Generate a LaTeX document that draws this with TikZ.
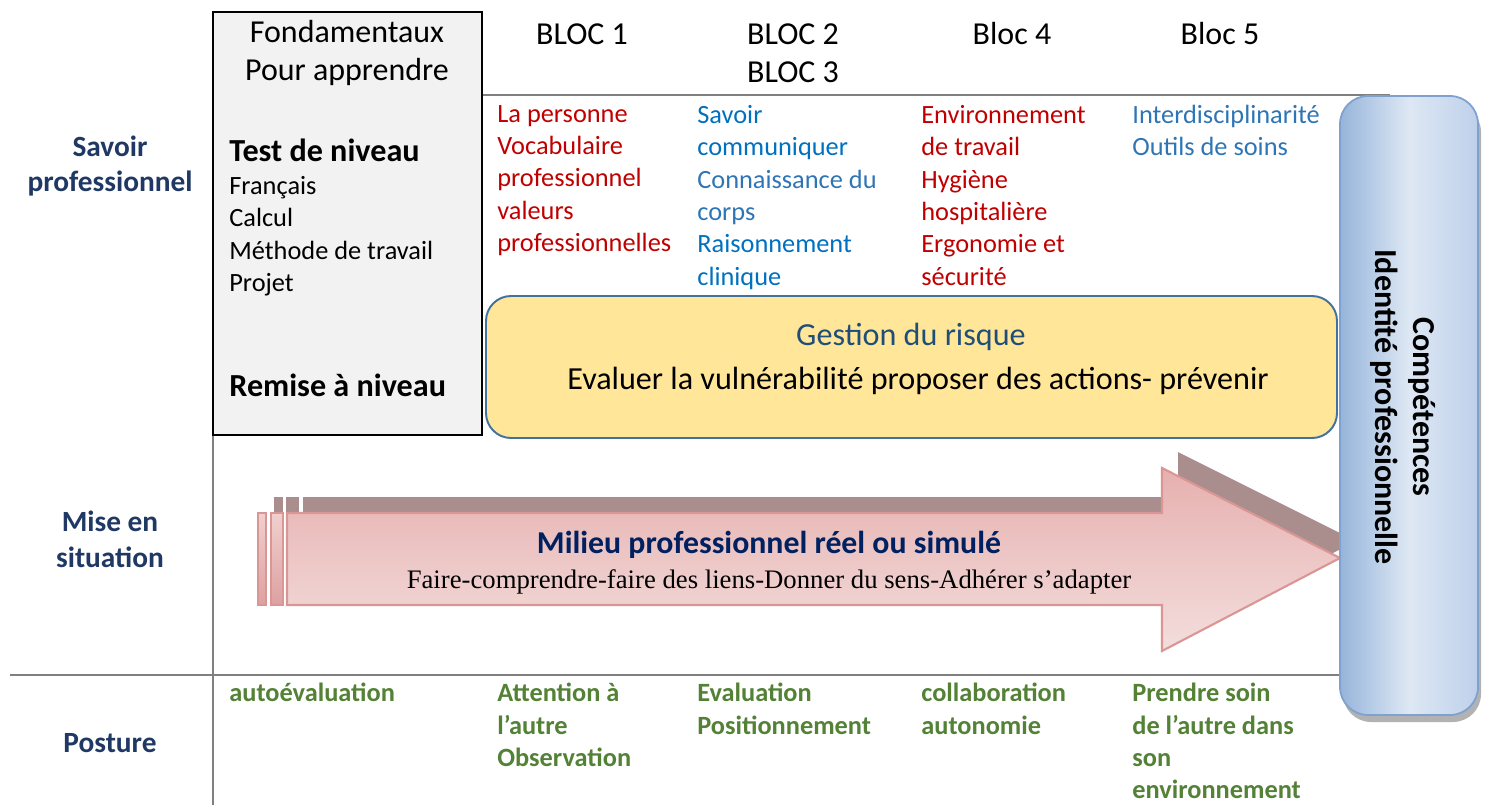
\documentclass[tikz,border=0pt]{standalone}
\usepackage{fontspec}
\usepackage{xcolor}
\setmainfont{Carlito}
\newfontfamily\timesfont{Liberation Serif}
\definecolor{navy}{HTML}{1F3864}
\definecolor{darkred}{HTML}{C00000}
\definecolor{brightblue}{HTML}{0070C0}
\definecolor{softblue}{HTML}{2E75B6}
\definecolor{leafgreen}{HTML}{538135}
\definecolor{steelblue}{HTML}{41719C}
\definecolor{riskblue}{HTML}{1F4E79}
\definecolor{titleblue}{HTML}{002060}
\definecolor{rulegray}{HTML}{808080}
\definecolor{riskfill}{HTML}{FFE699}
\definecolor{compline}{HTML}{7FA1CF}
\definecolor{compleft}{HTML}{96B4DA}
\definecolor{compmid}{HTML}{DEE8F4}
\definecolor{compright}{HTML}{BED0EA}
\definecolor{arrowline}{HTML}{D99694}
\definecolor{arrowtop}{HTML}{E6B0AF}
\definecolor{arrowbottom}{HTML}{F3DEDD}
\definecolor{stripetop}{HTML}{F0D0CF}
\definecolor{stripebottom}{HTML}{DEA0A0}
\definecolor{arrowshadow}{HTML}{AA8E8E}

\begin{document}
\begin{tikzpicture}[x=0.02cm,y=-0.02cm]
  \tikzstyle{SideStyle}=[font=\fontsize{16.7}{20.4}\selectfont\bfseries,text=navy,align=center,inner sep=0]
  \tikzstyle{HeadStyle}=[font=\fontsize{18.2}{21.5}\selectfont,align=center,inner sep=0]
  \tikzstyle{BodyStyle}=[font=\fontsize{15}{18.4}\selectfont,align=left,anchor=north west,inner sep=0]
  \tikzstyle{BoldStyle}=[font=\fontsize{18.3}{20}\selectfont\bfseries,anchor=west,inner sep=0]
  \tikzstyle{PostureStyle}=[BodyStyle,font=\fontsize{15}{18.4}\selectfont\bfseries,text=leafgreen]
  \tikzstyle{ArrowStyle}=[arrowline,line width=1.2pt]
  \useasboundingbox (0,0) rectangle (1488,805);
  \draw[rulegray,line width=1pt] (482,95) -- (1390,95);
  \draw[rulegray,line width=1.6pt] (10,675) -- (1340,675);
  \draw[rulegray,line width=0.8pt] (213,435) -- (213,805);
  \draw[black,line width=1.5pt,fill=black!5] (213,12) rectangle (482,435);
  \draw[steelblue,line width=1.1pt,fill=riskfill,rounded corners=0.5cm] (486,296) rectangle (1337,438);
  \fill[arrowshadow] (303,497) -- (1178,497) -- (1178,452) -- (1356,541) -- (1178,634) -- (1178,589) -- (303,589) -- cycle;
  \fill[arrowshadow] (274,497) rectangle (283,589);
  \fill[arrowshadow] (286,497) rectangle (299,589);
  \draw[ArrowStyle,top color=arrowtop,bottom color=arrowbottom] (287,513) -- (1162,513) -- (1162,468) -- (1340,558) -- (1162,651) -- (1162,605) -- (287,605) -- cycle;
  \draw[ArrowStyle,top color=stripetop,bottom color=stripebottom] (258,513) rectangle (266,605);
  \draw[ArrowStyle,top color=stripetop,bottom color=stripebottom] (271,513) rectangle (283,605);
  \fill[gray!60,rounded corners=0.56cm] (1343,104) rectangle (1481,722);
  \draw[compline,line width=1pt,left color=compleft,right color=compright,middle color=compmid,rounded corners=0.56cm] (1340,96) rectangle (1478,715);
  \node[SideStyle] (savoir) at (110,166) {Savoir\\professionnel};
  \node[SideStyle] (mise) at (110,539) {Mise en\\situation};
  \node[SideStyle] (posture) at (110,743) {Posture};
  \node[HeadStyle] (fond) at (347,53) {Fondamentaux\\Pour apprendre};
  \node[HeadStyle] (bloc1) at (582,34) {BLOC 1};
  \node[HeadStyle] (bloc23) at (793,53) {BLOC 2\\BLOC 3};
  \node[HeadStyle] (bloc4) at (1012,34) {Bloc 4};
  \node[HeadStyle] (bloc5) at (1220,34) {Bloc 5};
  \node[BoldStyle] (test) at (229,150) {Test de niveau};
  \node[BodyStyle] (bases) at (229,176) {Français\\Calcul\\Méthode de travail\\Projet};
  \node[BoldStyle] (remise) at (229,385) {Remise à niveau};
  \node[BodyStyle,text=darkred] (col1) at (497,105) {La personne\\Vocabulaire\\professionnel\\valeurs\\professionnelles};
  \node[BodyStyle,text=brightblue] (col2) at (697,105) {Savoir\\communiquer\\\textcolor{softblue}{Connaissance du}\\\textcolor{softblue}{corps}\\Raisonnement\\clinique};
  \node[BodyStyle,text=darkred] (col3) at (921,105) {Environnement\\de travail\\Hygiène\\hospitalière\\Ergonomie et\\sécurité};
  \node[BodyStyle,text=softblue] (col4) at (1132,105) {Interdisciplinarité\\Outils de soins};
  \node[HeadStyle,font=\fontsize{18.3}{20}\selectfont,text=riskblue] (risque) at (911,337) {Gestion du risque};
  \node[HeadStyle,font=\fontsize{18.3}{22}\selectfont] (evaluer) at (918,381) {Evaluer la vulnérabilité proposer des actions- prévenir};
  \node[HeadStyle,font=\fontsize{18.1}{20}\selectfont\bfseries,text=titleblue] (milieu) at (769,545) {Milieu professionnel réel ou simulé};
  \node[HeadStyle,font=\fontsize{15.2}{17}\timesfont] (faire) at (769,582) {Faire-comprendre-faire des liens-Donner du sens-Adhérer s’adapter};
  \node[HeadStyle,font=\fontsize{18.2}{21.5}\selectfont\bfseries,rotate=-90] (comp) at (1403,407) {Compétences\\Identité professionnelle};
  \node[PostureStyle] (auto) at (229,683) {autoévaluation};
  \node[PostureStyle] (attention) at (497,683) {Attention à\\l’autre\\Observation};
  \node[PostureStyle] (evaluation) at (697,683) {Evaluation\\Positionnement};
  \node[PostureStyle] (collab) at (921,683) {collaboration\\autonomie};
  \node[PostureStyle] (soin) at (1132,683) {Prendre soin\\de l’autre dans\\son\\environnement};
\end{tikzpicture}
\end{document}
